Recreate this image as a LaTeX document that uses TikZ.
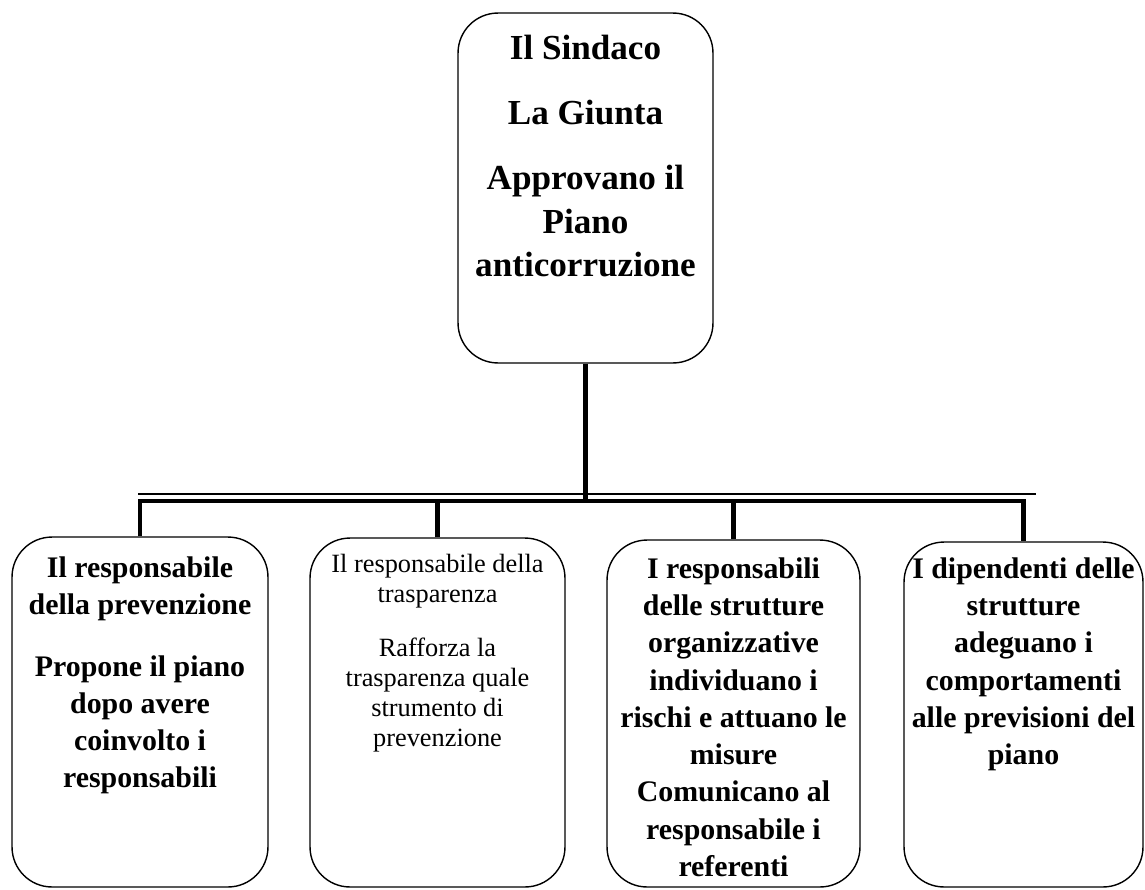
\documentclass[tikz,border=0pt]{standalone}
\usepackage{fontspec}
\setmainfont{Liberation Serif}
\usetikzlibrary{positioning}

\begin{document}
\begin{tikzpicture}[x=0.02cm,y=-0.02cm,
		box/.style={draw,line width=0.8pt,rounded corners=0.8cm,inner sep=0pt},
		txt/.style={align=center,inner sep=0pt,font=\bfseries\fontsize{17}{21}\selectfont},
		conn/.style={line width=2.6pt},
		rule/.style={line width=0.8pt}]
	\useasboundingbox (0,0) rectangle (1145,889);
	% riquadri
	\node[box,minimum width=5.1cm,minimum height=7cm] (sindaco) at (585.5,188) {};
	\node[box,minimum width=5.12cm,minimum height=7cm] (prev) at (140,712) {};
	\node[box,minimum width=5.1cm,minimum height=6.98cm] (trasp) at (437.5,712.5) {};
	\node[box,minimum width=5.06cm,minimum height=6.94cm] (strutt) at (733.5,713.5) {};
	\node[box,minimum width=4.78cm,minimum height=6.9cm] (dip) at (1023.5,714.5) {};
	% testi
	\node[txt,font=\bfseries\fontsize{20}{25}\selectfont,below=0.44cm of sindaco.north] (sindaco-txt)
		{Il Sindaco\\[12pt]La Giunta\\[12pt]Approvano il\\Piano\\anticorruzione};
	\node[txt,below=0.4cm of prev.north] (prev-txt)
		{Il responsabile\\della prevenzione\\[14.5pt]Propone il piano\\dopo avere\\coinvolto i\\responsabili};
	\node[txt,font=\fontsize{15}{17}\selectfont,below=0.34cm of trasp.north] (trasp-txt)
		{Il responsabile della\\trasparenza\\[13.5pt]Rafforza la\\trasparenza quale\\strumento di\\prevenzione};
	\node[txt,font=\bfseries\fontsize{17}{21.2}\selectfont,below=0.36cm of strutt.north] (strutt-txt)
		{I responsabili\\delle strutture\\organizzative\\individuano i\\rischi e attuano le\\misure\\Comunicano al\\responsabile i\\referenti};
	\node[txt,font=\bfseries\fontsize{17}{21.2}\selectfont,below=0.32cm of dip.north] (dip-txt)
		{I dipendenti delle\\strutture\\adeguano i\\comportamenti\\alle previsioni del\\piano};
	% collegamenti
	\coordinate (bar) at (585,501);
	\draw[conn] (sindaco.south) -- (sindaco.south |- bar);
	\draw[conn] (prev.north) -- (prev.north |- bar) -| (dip.north);
	\foreach \n in {trasp,strutt}
		\draw[conn] (\n.north) -- (\n.north |- bar);
	\path (prev.north |- bar) ++(-2,-7) coordinate (ruleL);
	\path (dip.north |- bar) ++(12,-7) coordinate (ruleR);
	\draw[rule] (ruleL) -- (ruleR);
\end{tikzpicture}
\end{document}
